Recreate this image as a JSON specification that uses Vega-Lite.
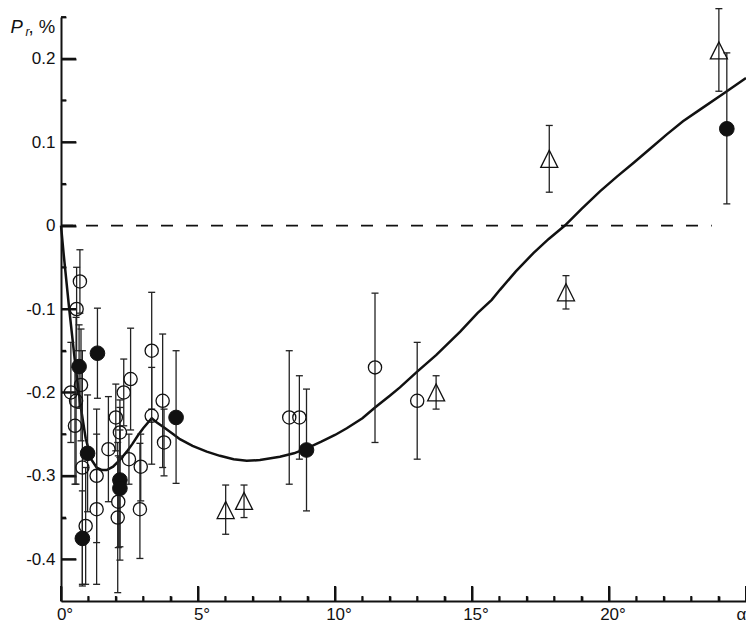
{
  "$schema": "https://vega.github.io/schema/vega-lite/v6.json",
  "width": 685,
  "height": 584,
  "autosize": {"type": "none"},
  "padding": {"left": 61, "top": 17, "right": 0, "bottom": 21},
  "background": "white",
  "config": {
    "view": {"stroke": null},
    "axis": {"grid": false, "labelFont": "Liberation Sans", "titleFont": "Liberation Sans", "labelColor": "#111", "titleColor": "#111"}
  },
  "datasets": {
    "zero": [{"x0": 0, "x1": 23.75, "y": 0}],
    "xmaj": [{"t": 0}, {"t": 5}, {"t": 10}, {"t": 15}, {"t": 20}, {"t": 25}],
    "xmin": [{"t": 1}, {"t": 2}, {"t": 3}, {"t": 4}, {"t": 6}, {"t": 7}, {"t": 8}, {"t": 9}, {"t": 11}, {"t": 12}, {"t": 13}, {"t": 14}, {"t": 16}, {"t": 17}, {"t": 18}, {"t": 19}, {"t": 21}, {"t": 22}, {"t": 23}, {"t": 24}],
    "ymaj": [{"t": -0.4}, {"t": -0.3}, {"t": -0.2}, {"t": -0.1}, {"t": 0}, {"t": 0.1}, {"t": 0.2}],
    "ymin": [{"t": -0.35}, {"t": -0.25}, {"t": -0.15}, {"t": -0.05}, {"t": 0.05}, {"t": 0.15}, {"t": 0.25}],
    "curve": [
      {"a": 0, "p": 0}, {"a": 0.1, "p": -0.035}, {"a": 0.3, "p": -0.1}, {"a": 0.5, "p": -0.16}, {"a": 0.7, "p": -0.213},
      {"a": 0.9, "p": -0.255}, {"a": 1.1, "p": -0.28}, {"a": 1.3, "p": -0.29}, {"a": 1.5, "p": -0.293}, {"a": 1.67, "p": -0.293},
      {"a": 1.9, "p": -0.289}, {"a": 2.15, "p": -0.281}, {"a": 2.4, "p": -0.271}, {"a": 2.6, "p": -0.262}, {"a": 2.8, "p": -0.252},
      {"a": 3.0, "p": -0.243}, {"a": 3.31, "p": -0.231}, {"a": 3.5, "p": -0.236}, {"a": 3.8, "p": -0.243}, {"a": 4.1, "p": -0.25},
      {"a": 4.34, "p": -0.256}, {"a": 4.8, "p": -0.264}, {"a": 5.32, "p": -0.271}, {"a": 5.8, "p": -0.276}, {"a": 6.3, "p": -0.28},
      {"a": 6.78, "p": -0.282}, {"a": 7.26, "p": -0.281}, {"a": 7.99, "p": -0.277}, {"a": 8.5, "p": -0.273}, {"a": 8.97, "p": -0.267},
      {"a": 9.5, "p": -0.259}, {"a": 10.0, "p": -0.251}, {"a": 10.43, "p": -0.243}, {"a": 11.0, "p": -0.231}, {"a": 11.46, "p": -0.218},
      {"a": 12.0, "p": -0.204}, {"a": 12.37, "p": -0.194}, {"a": 13.0, "p": -0.175}, {"a": 13.7, "p": -0.155}, {"a": 14.57, "p": -0.127},
      {"a": 15.2, "p": -0.105}, {"a": 15.72, "p": -0.089}, {"a": 16.02, "p": -0.077}, {"a": 16.6, "p": -0.055}, {"a": 17.24, "p": -0.033},
      {"a": 17.8, "p": -0.016}, {"a": 18.39, "p": 0.0}, {"a": 19.0, "p": 0.02}, {"a": 19.67, "p": 0.041}, {"a": 20.3, "p": 0.059},
      {"a": 20.89, "p": 0.075}, {"a": 21.5, "p": 0.092}, {"a": 22.1, "p": 0.109}, {"a": 22.7, "p": 0.125}, {"a": 23.32, "p": 0.139},
      {"a": 24.17, "p": 0.158}, {"a": 25.0, "p": 0.177}
    ],
    "pts": [
      {"a": 0.69, "p": -0.067, "lo": -0.105, "hi": -0.029, "k": "open"},
      {"a": 0.57, "p": -0.1, "lo": -0.15, "hi": -0.05, "k": "open"},
      {"a": 0.66, "p": -0.169, "lo": -0.219, "hi": -0.119, "k": "filled"},
      {"a": 0.73, "p": -0.191, "lo": -0.258, "hi": -0.124, "k": "open"},
      {"a": 0.36, "p": -0.2, "lo": -0.26, "hi": -0.14, "k": "open"},
      {"a": 0.55, "p": -0.21, "lo": -0.31, "hi": -0.11, "k": "open"},
      {"a": 0.51, "p": -0.24, "lo": -0.31, "hi": -0.17, "k": "open"},
      {"a": 0.78, "p": -0.29, "lo": -0.43, "hi": -0.15, "k": "open"},
      {"a": 0.78, "p": -0.375, "lo": -0.432, "hi": -0.318, "k": "filled"},
      {"a": 0.9, "p": -0.36, "lo": -0.43, "hi": -0.29, "k": "open"},
      {"a": 0.97, "p": -0.273, "lo": -0.343, "hi": -0.203, "k": "filled"},
      {"a": 1.3, "p": -0.3, "lo": -0.38, "hi": -0.22, "k": "open"},
      {"a": 1.3, "p": -0.34, "lo": -0.43, "hi": -0.25, "k": "open"},
      {"a": 1.33, "p": -0.153, "lo": -0.207, "hi": -0.099, "k": "filled"},
      {"a": 1.73, "p": -0.268, "lo": -0.331, "hi": -0.205, "k": "open"},
      {"a": 2.0, "p": -0.23, "lo": -0.27, "hi": -0.19, "k": "open"},
      {"a": 2.15, "p": -0.248, "lo": -0.278, "hi": -0.218, "k": "open"},
      {"a": 2.15, "p": -0.305, "lo": -0.401, "hi": -0.209, "k": "filled"},
      {"a": 2.15, "p": -0.315, "lo": -0.385, "hi": -0.245, "k": "filled"},
      {"a": 2.09, "p": -0.331, "lo": -0.386, "hi": -0.276, "k": "open"},
      {"a": 2.07, "p": -0.35, "lo": -0.44, "hi": -0.26, "k": "open"},
      {"a": 2.29, "p": -0.2, "lo": -0.24, "hi": -0.16, "k": "open"},
      {"a": 2.48, "p": -0.28, "lo": -0.31, "hi": -0.25, "k": "open"},
      {"a": 2.54, "p": -0.184, "lo": -0.245, "hi": -0.123, "k": "open"},
      {"a": 2.88, "p": -0.34, "lo": -0.399, "hi": -0.261, "k": "open"},
      {"a": 2.91, "p": -0.289, "lo": -0.33, "hi": -0.25, "k": "open"},
      {"a": 3.31, "p": -0.15, "lo": -0.22, "hi": -0.08, "k": "open"},
      {"a": 3.31, "p": -0.228, "lo": -0.286, "hi": -0.17, "k": "open"},
      {"a": 3.71, "p": -0.21, "lo": -0.29, "hi": -0.13, "k": "open"},
      {"a": 3.76, "p": -0.26, "lo": -0.3, "hi": -0.22, "k": "open"},
      {"a": 4.2, "p": -0.23, "lo": -0.309, "hi": -0.15, "k": "filled"},
      {"a": 8.33, "p": -0.23, "lo": -0.31, "hi": -0.15, "k": "open"},
      {"a": 8.7, "p": -0.23, "lo": -0.28, "hi": -0.18, "k": "open"},
      {"a": 8.96, "p": -0.269, "lo": -0.342, "hi": -0.196, "k": "filled"},
      {"a": 11.46, "p": -0.17, "lo": -0.26, "hi": -0.081, "k": "open"},
      {"a": 13.0, "p": -0.21, "lo": -0.28, "hi": -0.14, "k": "open"},
      {"a": 24.3, "p": 0.116, "lo": 0.026, "hi": 0.207, "k": "filled"},
      {"a": 6.01, "p": -0.341, "lo": -0.37, "hi": -0.311, "k": "tri"},
      {"a": 6.68, "p": -0.33, "lo": -0.35, "hi": -0.311, "k": "tri"},
      {"a": 13.69, "p": -0.2, "lo": -0.22, "hi": -0.18, "k": "tri"},
      {"a": 17.82, "p": 0.08, "lo": 0.04, "hi": 0.12, "k": "tri"},
      {"a": 18.43, "p": -0.08, "lo": -0.1, "hi": -0.06, "k": "tri"},
      {"a": 24.01, "p": 0.21, "lo": 0.161, "hi": 0.26, "k": "tri"}
    ]
  },
  "layer": [
    {
      "data": {"name": "zero"},
      "mark": {"type": "rule", "strokeDash": [12, 13], "strokeWidth": 1.8, "color": "#111"},
      "encoding": {
        "x": {"field": "x0", "type": "quantitative", "scale": {"domain": [0, 25], "nice": false, "zero": false},
          "axis": {"orient": "top", "offset": -584, "values": [1, 2, 3, 4, 6, 7, 8, 9, 11, 12, 13, 14, 16, 17, 18, 19, 21, 22, 23, 24], "ticks": true, "tickSize": 5, "tickWidth": 1.8, "tickColor": "#111", "labels": false, "domain": false, "title": null}},
        "x2": {"field": "x1"},
        "y": {"field": "y", "type": "quantitative", "scale": {"domain": [-0.45, 0.25], "nice": false, "zero": false},
          "axis": {"orient": "right", "offset": -685, "values": [-0.35, -0.25, -0.15, -0.05, 0.05, 0.15, 0.25], "ticks": true, "tickSize": 5, "tickWidth": 1.8, "tickColor": "#111", "labels": false, "domain": false,
            "title": "r", "titleFontStyle": "italic", "titleFontWeight": "normal", "titleFontSize": 12, "titleAngle": 0, "titleAlign": "left", "titleBaseline": "alphabetic", "titleX": -36, "titleY": 18}}
      }
    },
    {
      "data": {"name": "curve"},
      "mark": {"type": "line", "strokeWidth": 2.5, "color": "#111"},
      "encoding": {
        "x": {"field": "a", "type": "quantitative",
          "axis": {"orient": "top", "offset": -584, "values": [0, 5, 10, 15, 20, 25], "ticks": true, "tickSize": 15, "tickWidth": 2, "tickColor": "#111",
            "domain": true, "domainWidth": 2, "domainColor": "#111",
            "labels": true, "labelFontSize": 17, "labelPadding": -20.5, "labelBaseline": "top", "labelAlign": "center",
            "labelExpr": "datum.value == 25 ? 'α' : datum.value + '°'", "labelOffset": {"condition": {"test": "datum.value == 25", "value": -5}, "value": 3.5},
            "labelFlush": false, "labelOverlap": false, "labelBound": false,
            "title": ", %", "titleFontWeight": "normal", "titleFontSize": 18.5, "titleAngle": 0, "titleAlign": "left", "titleBaseline": "alphabetic", "titleX": -33, "titleY": -569}},
        "y": {"field": "p", "type": "quantitative",
          "axis": {"orient": "right", "offset": -685, "values": [-0.4, -0.3, -0.2, -0.1, 0, 0.1, 0.2], "ticks": true, "tickSize": 15, "tickWidth": 2, "tickColor": "#111",
            "domain": true, "domainWidth": 2, "domainColor": "#111",
            "labels": true, "labelFontSize": 17, "labelPadding": -21, "labelAlign": "right", "labelBaseline": "middle",
            "labelExpr": "datum.value == 0 ? '0' : (datum.value < 0 ? '-' : '') + format(abs(datum.value), '.1f')", "labelOverlap": false, "labelBound": false,
            "title": "P", "titleFontStyle": "italic", "titleFontWeight": "normal", "titleFontSize": 18.5, "titleAngle": 0, "titleAlign": "left", "titleBaseline": "alphabetic", "titleX": -51, "titleY": 15}}
      }
    },
    {
      "data": {"name": "xmaj"},
      "mark": {"type": "tick", "orient": "vertical", "size": 15, "thickness": 2, "yOffset": -7.5, "color": "#111", "opacity": 1},
      "encoding": {
        "x": {"field": "t", "type": "quantitative", "axis": null},
        "y": {"datum": -0.45, "type": "quantitative", "axis": null}
      }
    },
    {
      "data": {"name": "xmin"},
      "mark": {"type": "tick", "orient": "vertical", "size": 5, "thickness": 1.8, "yOffset": -2.5, "color": "#111", "opacity": 1},
      "encoding": {
        "x": {"field": "t", "type": "quantitative", "axis": null},
        "y": {"datum": -0.45, "type": "quantitative", "axis": null}
      }
    },
    {
      "data": {"name": "ymaj"},
      "mark": {"type": "tick", "orient": "horizontal", "size": 15, "thickness": 2, "xOffset": 7.5, "color": "#111", "opacity": 1},
      "encoding": {
        "x": {"datum": 0, "type": "quantitative", "axis": null},
        "y": {"field": "t", "type": "quantitative", "axis": null}
      }
    },
    {
      "data": {"name": "ymin"},
      "mark": {"type": "tick", "orient": "horizontal", "size": 5, "thickness": 1.8, "xOffset": 2.5, "color": "#111", "opacity": 1},
      "encoding": {
        "x": {"datum": 0, "type": "quantitative", "axis": null},
        "y": {"field": "t", "type": "quantitative", "axis": null}
      }
    },
    {
      "data": {"name": "pts"},
      "mark": {"type": "rule", "strokeWidth": 1.3, "color": "#222"},
      "encoding": {
        "x": {"field": "a", "type": "quantitative", "axis": null},
        "y": {"field": "lo", "type": "quantitative", "axis": null},
        "y2": {"field": "hi"}
      }
    },
    {
      "data": {"name": "pts"},
      "mark": {"type": "point", "shape": "M-1,0L1,0", "size": 49, "filled": false, "strokeWidth": 1.3, "color": "#222", "opacity": 1},
      "encoding": {
        "x": {"field": "a", "type": "quantitative", "axis": null},
        "y": {"field": "lo", "type": "quantitative", "axis": null}
      }
    },
    {
      "data": {"name": "pts"},
      "mark": {"type": "point", "shape": "M-1,0L1,0", "size": 49, "filled": false, "strokeWidth": 1.3, "color": "#222", "opacity": 1},
      "encoding": {
        "x": {"field": "a", "type": "quantitative", "axis": null},
        "y": {"field": "hi", "type": "quantitative", "axis": null}
      }
    },
    {
      "data": {"name": "pts"},
      "transform": [{"filter": "datum.k == 'open'"}],
      "mark": {"type": "point", "shape": "circle", "filled": false, "size": 175, "strokeWidth": 1.3, "color": "#111", "opacity": 1},
      "encoding": {
        "x": {"field": "a", "type": "quantitative", "axis": null},
        "y": {"field": "p", "type": "quantitative", "axis": null}
      }
    },
    {
      "data": {"name": "pts"},
      "transform": [{"filter": "datum.k == 'filled'"}],
      "mark": {"type": "point", "shape": "circle", "filled": true, "size": 215, "stroke": "#111", "strokeWidth": 1, "fill": "#111", "opacity": 1},
      "encoding": {
        "x": {"field": "a", "type": "quantitative", "axis": null},
        "y": {"field": "p", "type": "quantitative", "axis": null}
      }
    },
    {
      "data": {"name": "pts"},
      "transform": [{"filter": "datum.k == 'tri'"}],
      "mark": {"type": "point", "shape": "M-1,1L0,-1L1,1Z", "filled": false, "size": 290, "strokeWidth": 1.3, "color": "#111", "opacity": 1},
      "encoding": {
        "x": {"field": "a", "type": "quantitative", "axis": null},
        "y": {"field": "p", "type": "quantitative", "axis": null}
      }
    }
  ],
  "resolve": {"axis": {"x": "independent", "y": "independent"}}
}
